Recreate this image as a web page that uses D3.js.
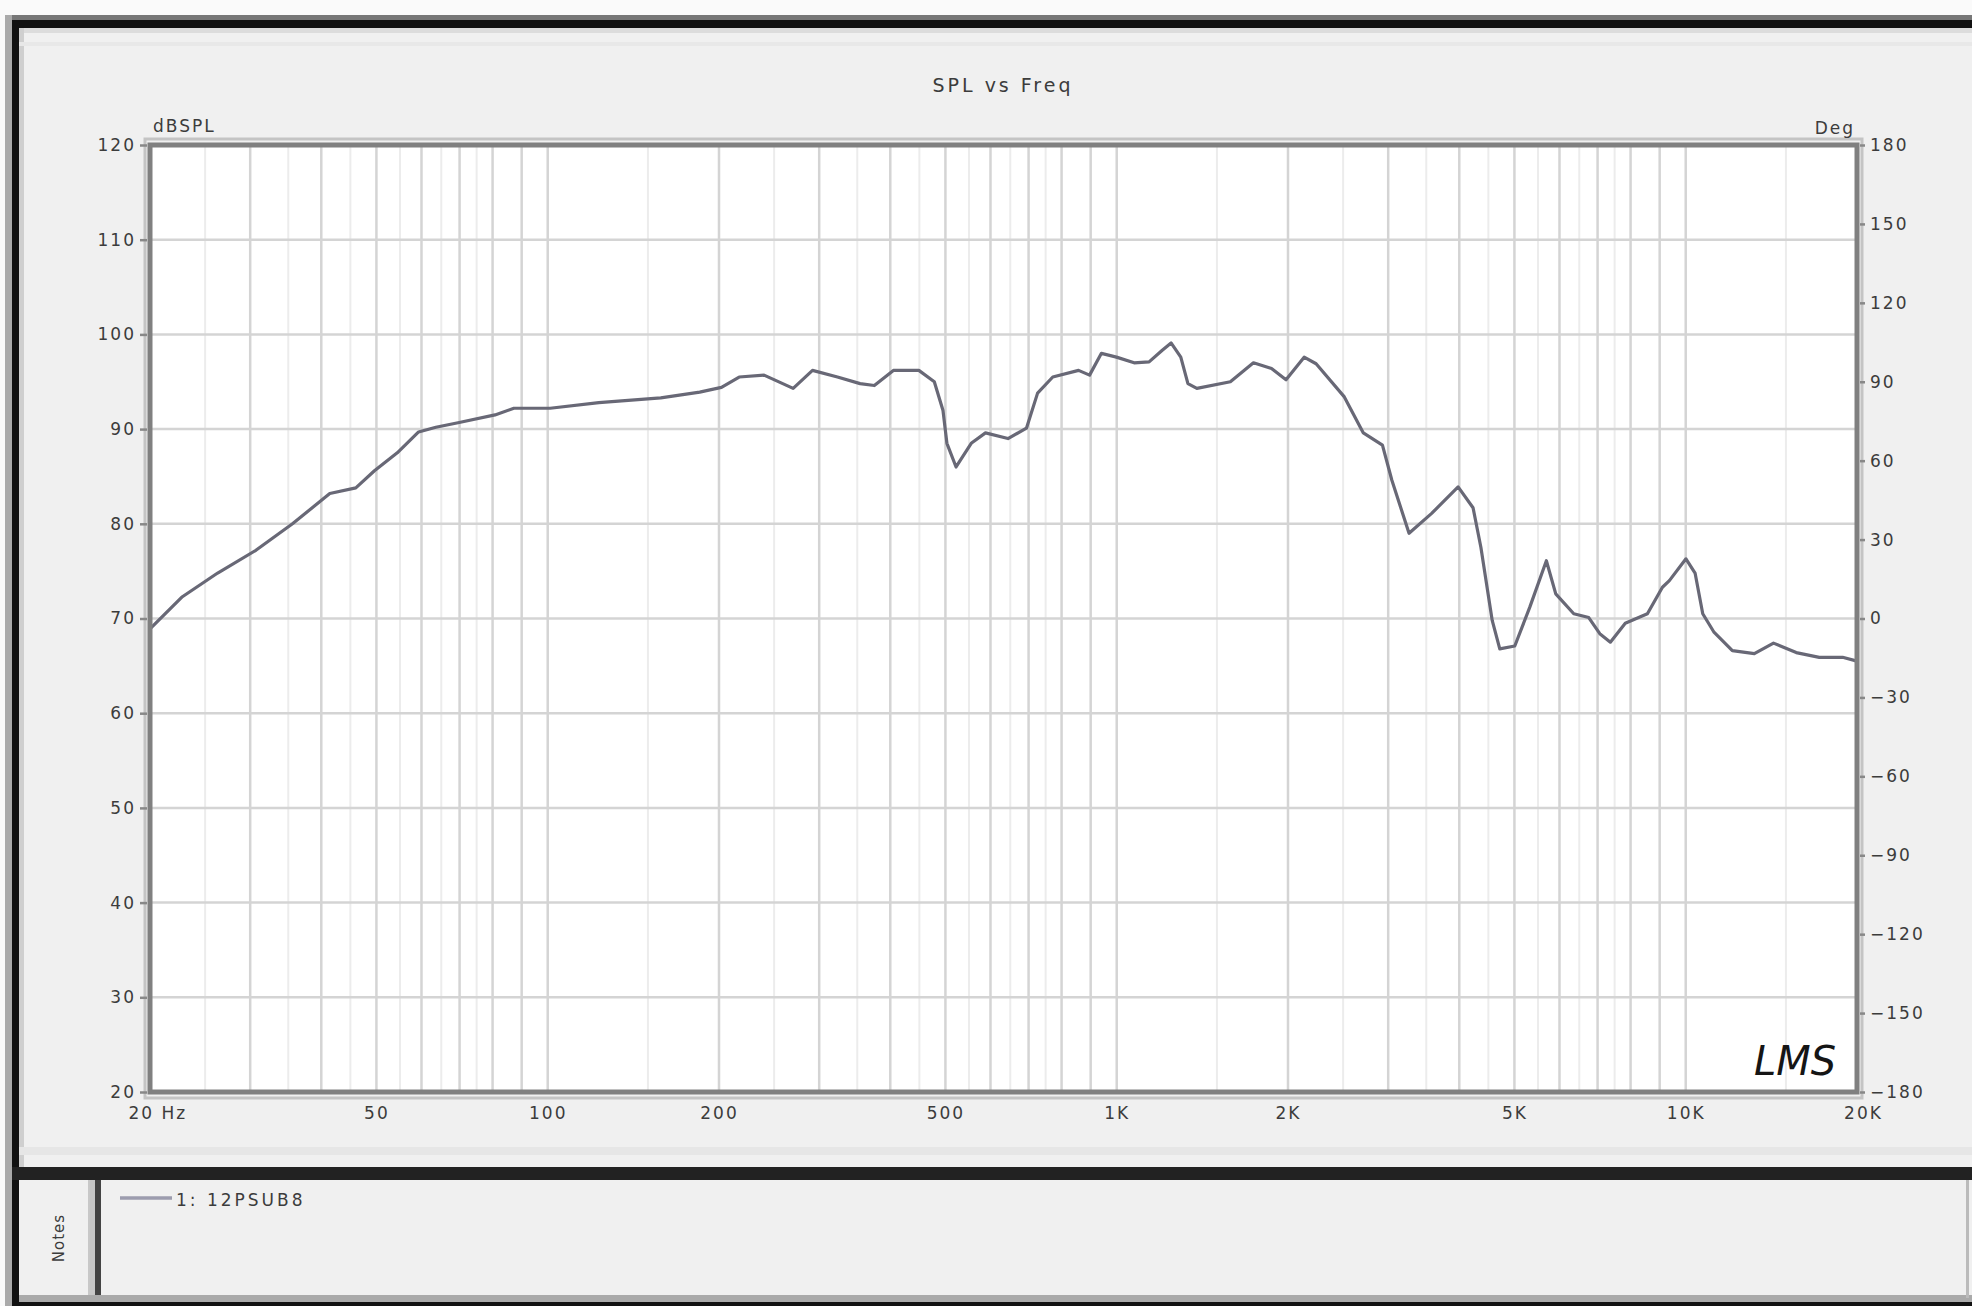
<!DOCTYPE html>
<html>
<head>
<meta charset="utf-8">
<script src="https://cdn.jsdelivr.net/npm/d3@7/dist/d3.min.js"></script>
<style>
  html, body { margin: 0; padding: 0; background: #fafafa; }
  svg { display: block; }
  text { font-family: "DejaVu Sans", "Liberation Sans", sans-serif; }
</style>
</head>
<body>
<svg id="chart" width="1972" height="1306"></svg>
<script>
// ---- data ----
const freqs = [20, 22.8, 26.3, 30.7, 35.6, 41.4, 46, 49.6, 54.4, 59.3, 63.6, 69.9, 80.8, 87.2, 101, 123, 158, 185, 202,
  217, 240, 270, 292, 323, 354, 375, 405, 449, 478, 495, 503, 522, 555, 588, 644, 694, 726, 772, 857, 896, 940, 999,
  1073, 1140, 1201, 1246, 1296, 1334, 1383, 1584, 1739, 1871, 1984, 2135, 2241, 2512, 2713, 2931, 3045, 3264, 3577,
  3981, 4229, 4366, 4570, 4712, 5007, 5321, 5690, 5910, 6357, 6754, 7063, 7372, 7830, 8564, 9101, 9360, 10010, 10386,
  10714, 11200, 12077, 13200, 14265, 15640, 17170, 18870, 20000];
const splValues = [68.9, 72.3, 74.8, 77.2, 80.0, 83.2, 83.8, 85.6, 87.5, 89.7, 90.2, 90.7, 91.5, 92.2, 92.2, 92.8, 93.3, 93.9, 94.4,
  95.5, 95.7, 94.3, 96.2, 95.5, 94.8, 94.6, 96.2, 96.2, 95.0, 92.0, 88.5, 86.0, 88.5, 89.6, 89.0, 90.1, 93.8, 95.5, 96.2, 95.7, 98.0, 97.6,
  97.0, 97.1, 98.3, 99.1, 97.6, 94.8, 94.3, 95.0, 97.0, 96.4, 95.2, 97.6, 96.9, 93.4, 89.6, 88.3, 84.6, 79.0, 81.1,
  83.9, 81.7, 77.5, 69.8, 66.8, 67.1, 71.2, 76.1, 72.6, 70.5, 70.1, 68.4, 67.5, 69.5, 70.5, 73.3, 74.0, 76.3, 74.8,
  70.5, 68.6, 66.6, 66.3, 67.4, 66.4, 65.9, 65.9, 65.5];
const xTickValues = [20, 50, 100, 200, 500, 1000, 2000, 5000, 10000, 20000];
const xTickLabels = ["20 Hz", "50", "100", "200", "500", "1K", "2K", "5K", "10K", "20K"];
const yTickValues = [20, 30, 40, 50, 60, 70, 80, 90, 100, 110, 120];
const degTickValues = [-180, -150, -120, -90, -60, -30, 0, 30, 60, 90, 120, 150, 180];
const chartTitle = "SPL vs Freq";
const leftUnit = "dBSPL";
const rightUnit = "Deg";
const legendLabel = "1: 12PSUB8";
const sideLabel = "Notes";

// ---- layout ----
const W = 1972, H = 1306;
const L = 150, R = 1857, T = 145, B = 1092;
const svg = d3.select("#chart");

const x = d3.scaleLog().domain([20, 20000]).range([L, R]);
const y = d3.scaleLinear().domain([20, 120]).range([B, T]);
const yDeg = d3.scaleLinear().domain([-180, 180]).range([B, T]);

const textFill = "#3c3c3c";
const fontSize = 17;

// window background and frame
svg.append("rect").attr("x", 0).attr("y", 0).attr("width", W).attr("height", H).attr("fill", "#fafafa");
svg.append("rect").attr("x", 12).attr("y", 20).attr("width", W).attr("height", H - 20).attr("fill", "#f0f0f0");
svg.append("rect").attr("x", 5).attr("y", 15).attr("width", W).attr("height", 5).attr("fill", "#777");
svg.append("rect").attr("x", 5).attr("y", 15).attr("width", 7).attr("height", H).attr("fill", "#aaa");
svg.append("rect").attr("x", 12).attr("y", 20).attr("width", W).attr("height", 8).attr("fill", "#111");
svg.append("rect").attr("x", 12).attr("y", 20).attr("width", 7).attr("height", H).attr("fill", "#111");
svg.append("rect").attr("x", 19).attr("y", 28).attr("width", W).attr("height", 5).attr("fill", "#dcdcdc");
svg.append("rect").attr("x", 19).attr("y", 28).attr("width", 5).attr("height", 1140).attr("fill", "#cfcfcf");
svg.append("rect").attr("x", 19).attr("y", 42).attr("width", W).attr("height", 4).attr("fill", "#e8e8e8");
svg.append("rect").attr("x", 19).attr("y", 1147).attr("width", W).attr("height", 8).attr("fill", "#e6e6e6");

// plot area
svg.append("rect").attr("x", L).attr("y", T).attr("width", R - L).attr("height", B - T).attr("fill", "#ffffff");

// grid: vertical (log) lines
const minorGrid = [], majorGrid = [];
[10, 100, 1000, 10000].forEach(dec => {
  for (let m = 1; m <= 9; m++) {
    const f = m * dec;
    if (f > 20 && f < 20000) majorGrid.push(f);
    const h = (m + 0.5) * dec;
    if (h > 20 && h < 20000 && m <= 7) minorGrid.push(h);
  }
});
const grid = svg.append("g");
grid.selectAll("line.minor").data(minorGrid).join("line")
  .attr("x1", d => x(d)).attr("x2", d => x(d)).attr("y1", T).attr("y2", B)
  .attr("stroke", "#ececec").attr("stroke-width", 2);
grid.selectAll("line.major").data(majorGrid).join("line")
  .attr("x1", d => x(d)).attr("x2", d => x(d)).attr("y1", T).attr("y2", B)
  .attr("stroke", "#d4d4d4").attr("stroke-width", 2.5);
grid.selectAll("line.h").data(yTickValues.slice(1, -1)).join("line")
  .attr("x1", L).attr("x2", R).attr("y1", d => y(d)).attr("y2", d => y(d))
  .attr("stroke", "#d4d4d4").attr("stroke-width", 2.5);

// curve
const line = d3.line().x((d, i) => x(freqs[i])).y(d => y(d));
svg.append("path").datum(splValues).attr("d", line)
  .attr("fill", "none").attr("stroke", "#686876").attr("stroke-width", 3.2)
  .attr("stroke-linejoin", "round");

// plot border (two-tone)
svg.append("rect").attr("x", L - 5).attr("y", T - 6).attr("width", R - L + 10).attr("height", B - T + 12)
  .attr("fill", "none").attr("stroke", "#c4c4c4").attr("stroke-width", 3);
svg.append("rect").attr("x", L).attr("y", T).attr("width", R - L).attr("height", B - T)
  .attr("fill", "none").attr("stroke", "#808080").attr("stroke-width", 5);

// axes
const styleAxis = g => {
  g.select(".domain").remove();
  g.selectAll(".tick line").attr("stroke", "#888").attr("stroke-width", 2.5);
  g.selectAll(".tick text").attr("fill", textFill).attr("font-size", fontSize)
    .attr("letter-spacing", "2px").attr("font-family", "DejaVu Sans");
};
svg.append("g").attr("transform", `translate(${L - 3},0)`)
  .call(d3.axisLeft(y).tickValues(yTickValues).tickSize(7).tickPadding(4).tickFormat(d3.format("d")))
  .call(styleAxis);
svg.append("g").attr("transform", `translate(${R + 3},0)`)
  .call(d3.axisRight(yDeg).tickValues(degTickValues).tickSize(5).tickPadding(5).tickFormat(d3.format("d")))
  .call(styleAxis);
const xAxis = svg.append("g").attr("transform", `translate(0,${B + 3})`)
  .call(d3.axisBottom(x).tickValues(xTickValues).tickSize(0).tickPadding(12)
    .tickFormat((d, i) => xTickLabels[i]))
  .call(styleAxis);
xAxis.selectAll(".tick text").filter((d, i) => i === 0).attr("text-anchor", "start").attr("dx", -22);
xAxis.selectAll(".tick text").filter((d, i) => i === xTickValues.length - 1).attr("dx", 6);

// titles
svg.append("text").attr("x", 1003).attr("y", 92).attr("text-anchor", "middle")
  .attr("fill", textFill).attr("font-size", 19).attr("letter-spacing", "3px").text(chartTitle);
svg.append("text").attr("x", 153).attr("y", 132).attr("fill", textFill)
  .attr("font-size", fontSize).attr("letter-spacing", "2px").text(leftUnit);
svg.append("text").attr("x", R - 2).attr("y", 134).attr("text-anchor", "end").attr("fill", textFill)
  .attr("font-size", fontSize).attr("letter-spacing", "2px").text(rightUnit);

// LMS logo
svg.append("text").attr("x", 1754).attr("y", 1075).attr("fill", "#151515")
  .attr("font-family", "DejaVu Serif").attr("font-style", "italic").attr("font-size", 40)
  .attr("textLength", 82).attr("lengthAdjust", "spacingAndGlyphs").text("LMS");

// bottom legend panel
svg.append("rect").attr("x", 12).attr("y", 1167).attr("width", W).attr("height", 13).attr("fill", "#222");
svg.append("rect").attr("x", 88).attr("y", 1180).attr("width", 7).attr("height", 120).attr("fill", "#c8c8c8");
svg.append("rect").attr("x", 95).attr("y", 1180).attr("width", 6).attr("height", 120).attr("fill", "#444");
svg.append("rect").attr("x", 19).attr("y", 1295).attr("width", W).attr("height", 7).attr("fill", "#aaa");
svg.append("rect").attr("x", 12).attr("y", 1302).attr("width", W).attr("height", 4).attr("fill", "#111");
svg.append("rect").attr("x", 1966).attr("y", 1180).attr("width", 3).attr("height", 118).attr("fill", "#bbb");
svg.append("text").attr("transform", "translate(64,1238) rotate(-90)").attr("text-anchor", "middle")
  .attr("fill", textFill).attr("font-size", 15).attr("letter-spacing", "1px").text(sideLabel);
svg.append("line").attr("x1", 120).attr("x2", 172).attr("y1", 1198).attr("y2", 1198)
  .attr("stroke", "#9c9cae").attr("stroke-width", 3.5);
svg.append("text").attr("x", 176).attr("y", 1206).attr("fill", textFill)
  .attr("font-size", fontSize).attr("letter-spacing", "3px").text(legendLabel);
</script>
</body>
</html>
